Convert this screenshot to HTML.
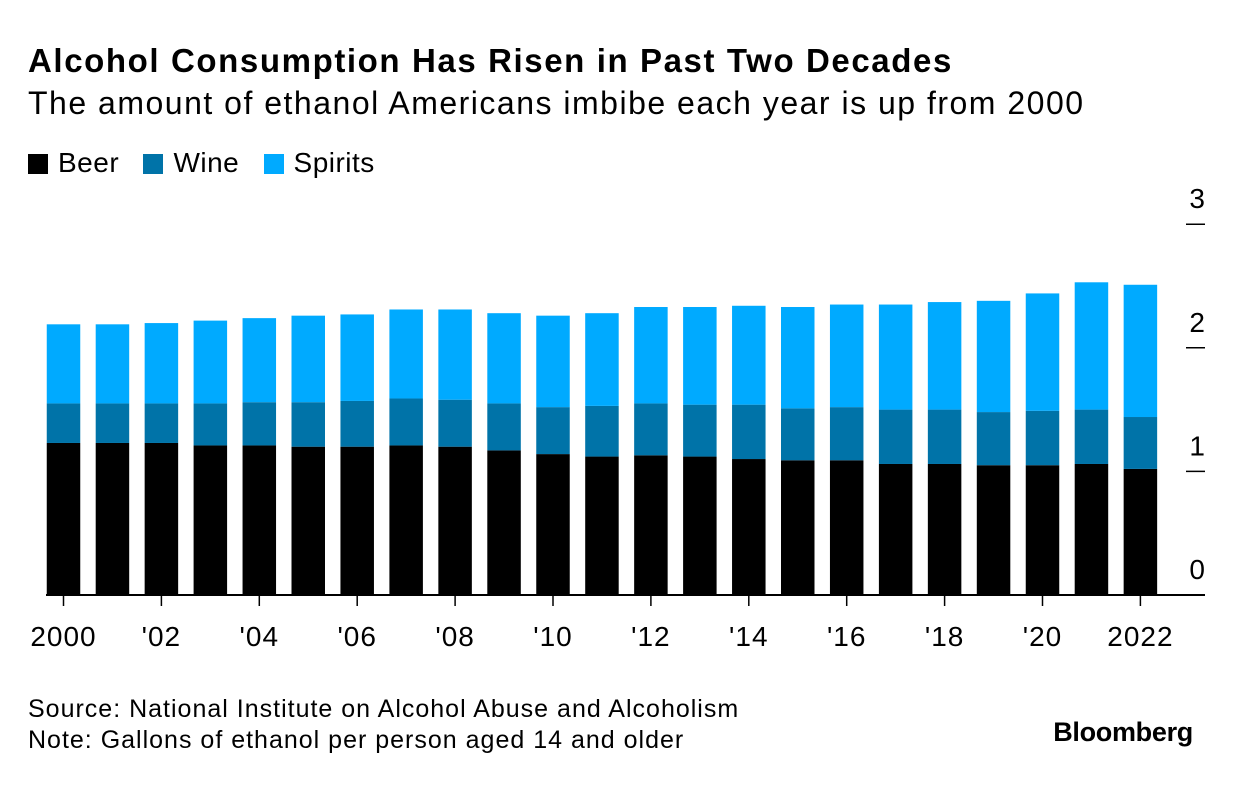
<!DOCTYPE html>
<html><head><meta charset="utf-8"><style>
body{margin:0;background:#fff;font-family:"Liberation Sans",sans-serif;color:#000}
#wrap{position:relative;width:1233px;height:794px;overflow:hidden}
.t{position:absolute;white-space:nowrap}
</style></head><body>
<div id="wrap">
<div class="t" style="left:28px;top:42px;font-size:33px;font-weight:bold;letter-spacing:1.6px">Alcohol Consumption Has Risen in Past Two Decades</div>
<div class="t" style="left:28px;top:85px;font-size:32px;letter-spacing:1.5px">The amount of ethanol Americans imbibe each year is up from 2000</div>
<div class="t" style="left:28px;top:147px;font-size:28px;letter-spacing:0.5px">
<span><span style="display:inline-block;width:20px;height:20px;background:#000;vertical-align:-2px;margin-right:10px"></span>Beer</span>
<span style="margin-left:16px"><span style="display:inline-block;width:20px;height:20px;background:#0073a8;vertical-align:-2px;margin-right:10px"></span>Wine</span>
<span style="margin-left:16px"><span style="display:inline-block;width:20px;height:20px;background:#00aaff;vertical-align:-2px;margin-right:10px"></span>Spirits</span>
</div>
<svg id="chart" width="1233" height="794" style="position:absolute;left:0;top:0"></svg>
<div class="t" style="left:28px;top:695px;font-size:25px;letter-spacing:1px">Source: National Institute on Alcohol Abuse and Alcoholism</div>
<div class="t" style="left:28px;top:726px;font-size:25px;letter-spacing:1px">Note: Gallons of ethanol per person aged 14 and older</div>
<div class="t" style="right:40px;top:717px;font-size:27px;font-weight:bold;letter-spacing:-0.3px">Bloomberg</div>
</div>
<script>
const years=[2000,2001,2002,2003,2004,2005,2006,2007,2008,2009,2010,2011,2012,2013,2014,2015,2016,2017,2018,2019,2020,2021,2022];
const beer=[1.23,1.23,1.23,1.21,1.21,1.20,1.20,1.21,1.20,1.17,1.14,1.12,1.13,1.12,1.10,1.09,1.09,1.06,1.06,1.05,1.05,1.06,1.02];
const wine=[0.32,0.32,0.32,0.34,0.35,0.36,0.37,0.38,0.38,0.38,0.38,0.41,0.42,0.42,0.44,0.42,0.43,0.44,0.44,0.43,0.44,0.44,0.42];
const spirits=[0.64,0.64,0.65,0.67,0.68,0.70,0.70,0.72,0.73,0.73,0.74,0.75,0.78,0.79,0.80,0.82,0.83,0.85,0.87,0.90,0.95,1.03,1.07];
const yTicks=[0,1,2,3];
const xLabels={2000:"2000",2002:"'02",2004:"'04",2006:"'06",2008:"'08",2010:"'10",2012:"'12",2014:"'14",2016:"'16",2018:"'18",2020:"'20",2022:"2022"};
const NS="http://www.w3.org/2000/svg";
const svg=document.getElementById('chart');
const y0=595,pxU=123.6;
const yS=v=>y0-v*pxU;
const xS=yr=>63.5+(yr-2000)*48.95;
const bw=33.5;
function mk(tag,a){const e=document.createElementNS(NS,tag);for(const k in a)e.setAttribute(k,a[k]);svg.appendChild(e);return e;}
years.forEach((yr,i)=>{
  const cx=xS(yr);let base=0;
  [[beer[i],'#000','beer'],[wine[i],'#0073a8','wine'],[spirits[i],'#00aaff','spirits']].forEach(([v,c,n])=>{
    const r=mk('rect',{x:cx-bw/2,y:yS(base+v),width:bw,height:v*pxU,fill:c});
    
    
    base+=v;
  });
  if(xLabels[yr]){
    const t=mk('line',{x1:cx,x2:cx,y1:y0,y2:y0+11,stroke:'#000','stroke-width':1.5});
    
    
    const l=mk('text',{x:cx,y:646,'text-anchor':'middle','font-size':28,'letter-spacing':1,'font-family':'Liberation Sans, sans-serif'});
    l.textContent=xLabels[yr];
    
    
  }
});
const ax=mk('line',{x1:46,x2:1205,y1:y0,y2:y0,stroke:'#000','stroke-width':2});


yTicks.forEach(v=>{
  const y=yS(v);
  if(v>0){const t=mk('line',{x1:1186,x2:1205,y1:y,y2:y,stroke:'#000','stroke-width':1.5});
  
  }
  const l=mk('text',{x:1205,y:y-16,'text-anchor':'end','font-size':28,'font-family':'Liberation Sans, sans-serif'});
  l.textContent=v;
  
  
});
</script>
</body></html>
